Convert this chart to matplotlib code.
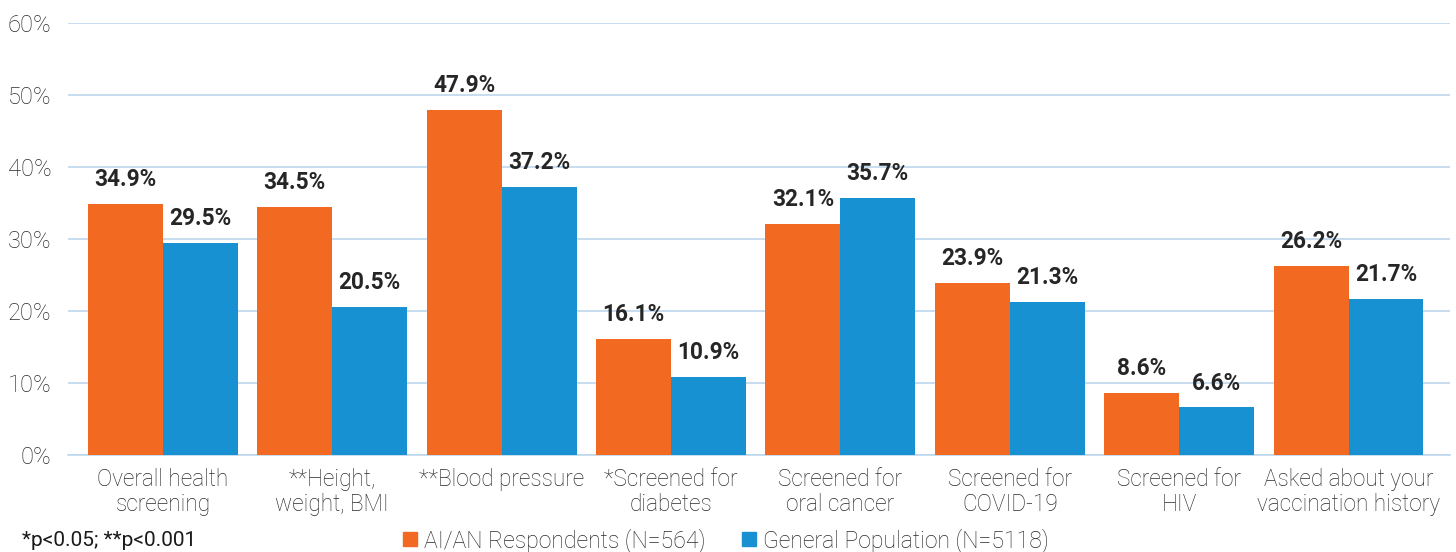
import numpy as np
import matplotlib.pyplot as plt
import matplotlib.patches as patches

categories = ['Overall health\nscreening', '**Height,\nweight, BMI', '**Blood pressure',
              '*Screened for\ndiabetes', 'Screened for\noral cancer', 'Screened for\nCOVID-19',
              'Screened for\nHIV', 'Asked about your\nvaccination history']
aian = [34.9, 34.5, 47.9, 16.1, 32.1, 23.9, 8.6, 26.2]
general = [29.5, 20.5, 37.2, 10.9, 35.7, 21.3, 6.6, 21.7]
series_names = ['AI/AN Respondents (N=564)', 'General Population (N=5118)']
yticks = [0, 10, 20, 30, 40, 50, 60]

orange = '#F26922'
blue = '#1791D1'
grid_color = '#BDD7EE'
text_color = '#2a2a2a'

plt.rcParams['font.family'] = ['Roboto', 'DejaVu Sans']

fig = plt.figure(figsize=(14.56, 5.52), dpi=100)
ax = fig.add_axes([0.0467, 0.1757, 0.9493, 0.7826])

x = np.arange(len(categories))
width = 0.4425
ax.bar(x - width / 2, aian, width, color=orange, zorder=3, label=series_names[0])
ax.bar(x + width / 2, general, width, color=blue, zorder=3, label=series_names[1])

for xi, (a, g) in enumerate(zip(aian, general)):
    ax.text(xi - width / 2, a + 1.8, f'{a}%', ha='center', va='bottom',
            fontsize=16.3, fontweight='bold', color='#262626')
    ax.text(xi + width / 2, g + 1.8, f'{g}%', ha='center', va='bottom',
            fontsize=16.3, fontweight='bold', color='#262626')

ax.set_xlim(-0.56, 7.6)
ax.set_ylim(0, 60)
ax.set_yticks(yticks)
ax.set_yticklabels([f'{v}%' for v in yticks], fontsize=17, color=text_color, fontweight='light')
ax.set_xticks(x)
ax.set_xticklabels(categories, fontsize=16.3, color=text_color, fontweight='light', linespacing=1.15)
ax.tick_params(axis='both', length=0)
ax.tick_params(axis='x', pad=9)
ax.tick_params(axis='y', pad=12)
ax.yaxis.grid(True, color=grid_color, linewidth=1.2, zorder=0)
for side in ['top', 'right', 'left']:
    ax.spines[side].set_visible(False)
ax.spines['bottom'].set_color(grid_color)
ax.spines['bottom'].set_linewidth(1.2)

fig.text(0.015, 0.02, '*p<0.05; **p<0.001', fontsize=15, color='#1a1a1a', va='center')

handles = [patches.Rectangle((0, 0), 1, 1, color=orange), patches.Rectangle((0, 0), 1, 1, color=blue)]
fig.legend(handles, series_names, loc='center', bbox_to_anchor=(0.4986, 0.021), ncol=2, frameon=False,
           handlelength=0.6, handleheight=0.6, handletextpad=0.3, columnspacing=1.6,
           prop={'size': 16.6, 'weight': 'light'}, labelcolor=text_color, borderpad=0)

fig.savefig('out.png', dpi=100)
